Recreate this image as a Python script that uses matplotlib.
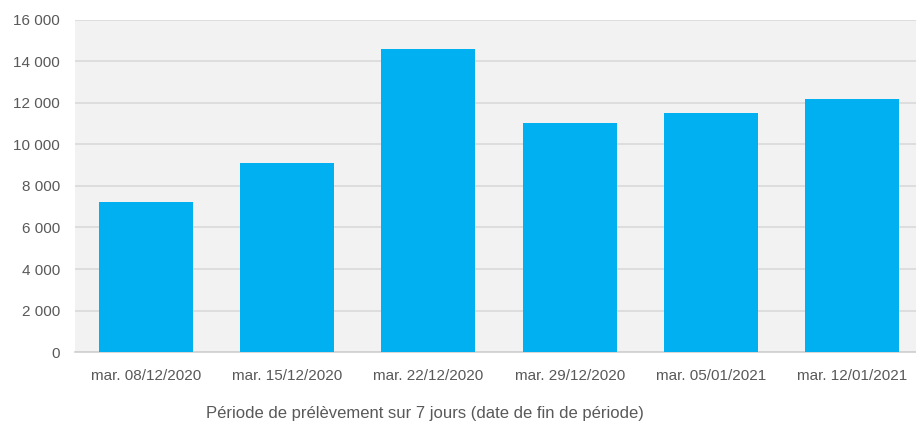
import numpy as np
import matplotlib.pyplot as plt
from matplotlib.ticker import FuncFormatter

plt.rcParams['font.family'] = ['Liberation Sans', 'DejaVu Sans']

# weekly sample periods (end date) and counts
periods = ['mar. 08/12/2020', 'mar. 15/12/2020', 'mar. 22/12/2020',
           'mar. 29/12/2020', 'mar. 05/01/2021', 'mar. 12/01/2021']
values = [7250, 9120, 14600, 11050, 11500, 12200]
y_ticks = [0, 2000, 4000, 6000, 8000, 10000, 12000, 14000, 16000]


def fr_thousands(v, pos):
    # french style: space as thousands separator
    return '{:,.0f}'.format(v).replace(',', ' ')


def main():
    fig = plt.figure(figsize=(9.16, 4.23), dpi=100)
    ax = fig.add_axes([0.0823, 0.1678, 0.925, 0.785])
    ax.set_facecolor('#f2f2f2')

    x = np.arange(len(periods))
    ax.bar(x, values, width=0.666, color='#00b0f0', zorder=3)

    ax.set_xlim(-0.5, len(periods) - 0.5)
    ax.set_ylim(0, 16000)
    ax.set_yticks(y_ticks)
    ax.yaxis.set_major_formatter(FuncFormatter(fr_thousands))
    ax.set_xticks(x)
    ax.set_xticklabels(periods)

    ax.grid(axis='y', color='#d9d9d9', linewidth=1.2, zorder=0)
    for s in ['left', 'right', 'top']:
        ax.spines[s].set_visible(False)
    ax.spines['bottom'].set_color('#d0d0d0')
    ax.spines['bottom'].set_linewidth(1.2)

    ax.tick_params(axis='both', length=0, colors='#595959', labelsize=11)
    ax.tick_params(axis='y', pad=11)
    ax.tick_params(axis='x', pad=12)

    fig.text(425 / 916, 1 - 413 / 423,
             'Période de prélèvement sur 7 jours (date de fin de période)',
             ha='center', va='center', fontsize=12, color='#595959')

    fig.savefig('out.png', dpi=100)


if __name__ == '__main__':
    main()
